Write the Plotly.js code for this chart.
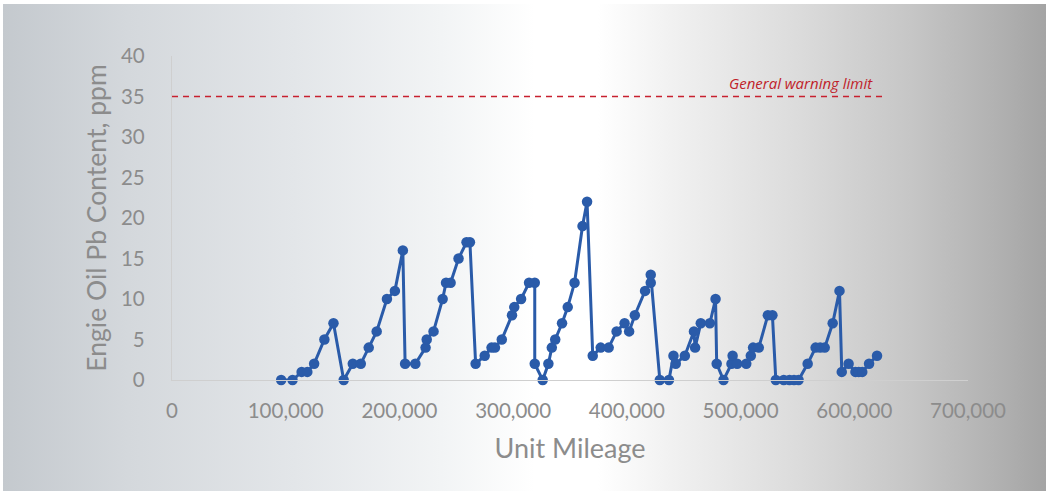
<!DOCTYPE html>
<html>
<head>
<meta charset="utf-8">
<script src="https://cdn.plot.ly/plotly-3.0.1.min.js"></script>
<style>
  html, body { margin: 0; padding: 0; background: #ffffff; }
  #wrap { position: relative; width: 1052px; height: 497px; background: #ffffff; }
  #bg { position: absolute; left: 3px; top: 4px; width: 1043px; height: 487px;
        background: linear-gradient(to right, #c4c9ce 0%, #d4d8dc 12%, #e3e6e9 28%, #f2f4f5 42%, #ffffff 51%, #ffffff 57%, #f1f1f1 64%, #dcdcdc 76%, #c6c6c6 87%, #b2b2b2 95%, #a4a4a4 100%); }
  #chart { position: absolute; left: 0; top: 0; width: 1052px; height: 497px; }
</style>
</head>
<body>
<div id="wrap">
  <div id="bg"></div>
  <div id="chart"></div>
</div>
<script>
const mileage = [96000, 106000, 114000, 119000, 125000, 134000, 142000, 151000, 159000, 166000,
  173000, 180000, 189000, 196000, 203000, 205000, 214000, 223000, 224000, 230000,
  238000, 241000, 245000, 252000, 259000, 262000, 267000, 275000, 281000, 284000,
  290000, 299000, 301000, 307000, 314000, 319000, 319000, 326000, 331000, 334000,
  337000, 343000, 348000, 354000, 361000, 365000, 370000, 377000, 384000, 391000,
  398000, 402000, 407000, 416000, 421000, 421000, 429000, 437000, 441000, 443000,
  451000, 459000, 460000, 465000, 473000, 478000, 479000, 485000, 492000, 493000,
  497000, 505000, 509000, 511000, 516000, 524000, 528000, 531000, 538000, 543000,
  547000, 551000, 559000, 566000, 570000, 574000, 581000, 587000, 589000, 595000,
  601000, 604000, 607000, 613000, 620000];
const pbContent = [0, 0, 1, 1, 2, 5, 7, 0, 2, 2,
  4, 6, 10, 11, 16, 2, 2, 4, 5, 6,
  10, 12, 12, 15, 17, 17, 2, 3, 4, 4,
  5, 8, 9, 10, 12, 12, 2, 0, 2, 4,
  5, 7, 9, 12, 19, 22, 3, 4, 4, 6,
  7, 6, 8, 11, 12, 13, 0, 0, 3, 2,
  3, 6, 4, 7, 7, 10, 2, 0, 2, 3,
  2, 2, 3, 4, 4, 8, 8, 0, 0, 0,
  0, 0, 2, 4, 4, 4, 7, 11, 1, 2,
  1, 1, 1, 2, 3];
const warningLimit = 35;
const warningEnd = 624500;
const warningLabel = "General warning limit";
const xTickVals = [0, 100000, 200000, 300000, 400000, 500000, 600000, 700000];
const xTickText = ["0", "100,000", "200,000", "300,000", "400,000", "500,000", "600,000", "700,000"];
const yTickVals = [0, 5, 10, 15, 20, 25, 30, 35, 40];

const trace = {
  x: mileage, y: pbContent, type: 'scatter', mode: 'lines+markers',
  line: { color: '#2a5ba9', width: 3 },
  marker: { color: '#2a5ba9', size: 10.5 },
  cliponaxis: false, hoverinfo: 'x+y'
};

const layout = {
  width: 1052, height: 497,
  margin: { l: 172, r: 84, t: 56, b: 117 },
  paper_bgcolor: 'rgba(0,0,0,0)', plot_bgcolor: 'rgba(0,0,0,0)',
  showlegend: false,
  font: { family: 'Lato, sans-serif', color: '#8a8a8a' },
  xaxis: {
    range: [0, 700000], tickvals: xTickVals, ticktext: xTickText,
    showgrid: false, zeroline: false, showline: true, linecolor: '#cfcfcf', linewidth: 1.2,
    ticks: 'outside', ticklen: 12, tickcolor: 'rgba(0,0,0,0)',
    tickfont: { family: 'Lato, sans-serif', size: 20.5, color: '#8c8c8c' },
    title: { text: 'Unit Mileage', font: { family: 'Lato, sans-serif', size: 27, color: '#8c8c8c' }, standoff: 18 }
  },
  yaxis: {
    range: [0, 40], tickvals: yTickVals,
    showgrid: false, zeroline: false, showline: true, linecolor: '#cfcfcf', linewidth: 1.2,
    ticks: 'outside', ticklen: 22, tickcolor: 'rgba(0,0,0,0)',
    tickfont: { family: 'Lato, sans-serif', size: 20.5, color: '#8c8c8c' },
    title: { text: 'Engie Oil Pb Content, ppm', font: { family: 'Lato, sans-serif', size: 26.5, color: '#8c8c8c' }, standoff: 6 }
  },
  shapes: [{
    type: 'line', xref: 'x', yref: 'y', x0: 0, x1: warningEnd, y0: warningLimit, y1: warningLimit,
    line: { color: '#c8202f', width: 1.7, dash: '6px,5px' }
  }],
  annotations: [{
    xref: 'x', yref: 'y', x: 553000, y: 36.7, text: '<i>' + warningLabel + '</i>',
    showarrow: false, xanchor: 'center', yanchor: 'middle',
    font: { family: 'Open Sans, sans-serif', size: 15, color: '#c01e2a' }
  }]
};

Plotly.newPlot('chart', [trace], layout, { displayModeBar: false, staticPlot: true });
</script>
</body>
</html>
